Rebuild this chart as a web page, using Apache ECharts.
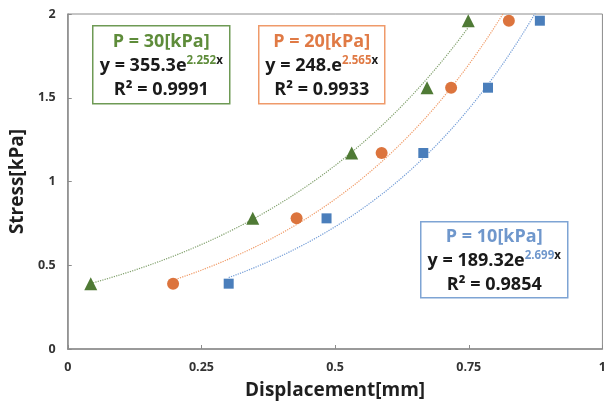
<!DOCTYPE html>
<html>
<head>
<meta charset="utf-8">
<script src="https://cdn.jsdelivr.net/npm/echarts@6/dist/echarts.min.js"></script>
<style>
  html, body { margin: 0; padding: 0; background: #fff; }
  #chart { width: 609px; height: 409px; }
</style>
</head>
<body>
<div id="chart"></div>
<script>
// measured points (displacement mm, stress kPa)
const stress = [0.39, 0.78, 1.17, 1.56, 1.96];
const disp30 = [0.043, 0.346, 0.531, 0.672, 0.749];
const disp20 = [0.197, 0.428, 0.587, 0.717, 0.825];
const disp10 = [0.301, 0.484, 0.665, 0.786, 0.883];

// exponential trendline coefficients as printed on the chart (a in Pa, b)
const fitA = [355.3, 248, 189.32];
const fitB = [2.252, 2.565, 2.699];
const fitR2 = ['0.9991', '0.9933', '0.9854'];
const loads = ['30', '20', '10'];

const xTicks = [0, 0.25, 0.5, 0.75, 1];
const yTicks = [0, 0.5, 1, 1.5, 2];

const FONT = '"Open Sans", "Noto Sans", sans-serif';
const green = '#4f7a35', orange = '#dc743d', blue = '#4a7ebb';

const chart = echarts.init(document.getElementById('chart'));

function pts(xs) {
  return xs.map((x, i) => [x, stress[i]]);
}

// trendline drawn from the printed fit y = a*e^(b*x), a given in Pa
function trend(k, xs) {
  const x0 = xs[0], x1 = xs[xs.length - 1];
  const out = [];
  for (let i = 0; i <= 60; i++) {
    const x = x0 + (x1 - x0) * i / 60;
    out.push([x, fitA[k] / 1000 * Math.exp(fitB[k] * x)]);
  }
  return out;
}

function box(k, left, top, w, h, col, titleCol) {
  const aText = k === 1 ? '248.' : String(fitA[k]);
  const big = { fontSize: 18, fontWeight: 'bold', fontFamily: FONT, lineHeight: 24 };
  const small = { fontSize: 11.5, fontWeight: 'bold', fontFamily: FONT, lineHeight: 24, verticalAlign: 'top', padding: [1, 0, 0, 0] };
  return {
    type: 'group',
    left: left,
    top: top,
    children: [
      {
        type: 'rect',
        shape: { x: 0, y: 0, width: w, height: h },
        style: { fill: '#fff', stroke: col, lineWidth: 1.5 }
      },
      {
        type: 'text',
        x: w / 2,
        y: h / 2 + 1,
        style: {
          text: '{t|P = ' + loads[k] + '[kPa]}\n{e|y = ' + aText + 'e}{s|' + fitB[k] + '}{x|x}\n{e|R² = ' + fitR2[k] + '}',
          align: 'center',
          verticalAlign: 'middle',
          rich: {
            t: Object.assign({ fill: titleCol }, big),
            e: Object.assign({ fill: '#1a1a1a' }, big),
            s: Object.assign({ fill: titleCol }, small),
            x: Object.assign({ fill: '#1a1a1a' }, small)
          }
        }
      }
    ]
  };
}

const option = {
  backgroundColor: '#fff',
  animation: false,
  grid: {
    left: 67, right: 5, top: 14, bottom: 60,
    show: true, borderColor: '#8c8c8c', borderWidth: 1
  },
  xAxis: {
    type: 'value',
    min: xTicks[0], max: xTicks[xTicks.length - 1], interval: 0.25,
    name: 'Displacement[mm]',
    nameLocation: 'middle',
    nameGap: 32,
    nameTextStyle: { color: '#1f1f1f', fontSize: 19, fontWeight: 'bold', fontFamily: FONT },
    axisLine: { lineStyle: { color: '#8c8c8c', width: 1.5 } },
    axisTick: { inside: true, length: 4, lineStyle: { color: '#8c8c8c' } },
    axisLabel: {
      color: '#333', fontSize: 12.5, fontWeight: 'bold', fontFamily: FONT, margin: 12,
      formatter: v => String(v)
    },
    splitLine: { show: false }
  },
  yAxis: {
    type: 'value',
    min: yTicks[0], max: yTicks[yTicks.length - 1], interval: 0.5,
    name: 'Stress[kPa]',
    nameLocation: 'middle',
    nameGap: 33,
    nameTextStyle: { color: '#1f1f1f', fontSize: 19, fontWeight: 'bold', fontFamily: FONT },
    axisLine: { show: true, lineStyle: { color: '#8c8c8c', width: 1.5 } },
    axisTick: { show: true, inside: true, length: 4, lineStyle: { color: '#8c8c8c' } },
    axisLabel: {
      color: '#333', fontSize: 12.5, fontWeight: 'bold', fontFamily: FONT, margin: 12,
      formatter: v => String(v)
    },
    splitLine: { show: false }
  },
  series: [
    {
      type: 'line', data: trend(0, disp30), showSymbol: false, clip: true,
      lineStyle: { color: '#7f9f6a', width: 1.2, type: 'dotted' }, z: 1
    },
    {
      type: 'line', data: trend(1, disp20), showSymbol: false, clip: true,
      lineStyle: { color: '#f09a66', width: 1.2, type: 'dotted' }, z: 1
    },
    {
      type: 'line', data: trend(2, disp10), showSymbol: false, clip: true,
      lineStyle: { color: '#6f9ad6', width: 1.2, type: 'dotted' }, z: 1
    },
    {
      type: 'scatter', data: pts(disp30), symbol: 'triangle', symbolSize: 13,
      itemStyle: { color: green, opacity: 1 }, z: 3
    },
    {
      type: 'scatter', data: pts(disp20), symbol: 'circle', symbolSize: 12,
      itemStyle: { color: orange, opacity: 1 }, z: 3
    },
    {
      type: 'scatter', data: pts(disp10), symbol: 'rect', symbolSize: 10,
      itemStyle: { color: blue, opacity: 1 }, z: 3
    }
  ],
  graphic: [
    box(0, 92, 25, 137, 78, '#6e9a55', '#5e8c3a'),
    box(1, 258, 25, 126, 78, '#ef9a6a', '#e07a45'),
    box(2, 420, 221, 147, 76, '#7ea4d4', '#6f97cc')
  ]
};

chart.setOption(option);
</script>
</body>
</html>
